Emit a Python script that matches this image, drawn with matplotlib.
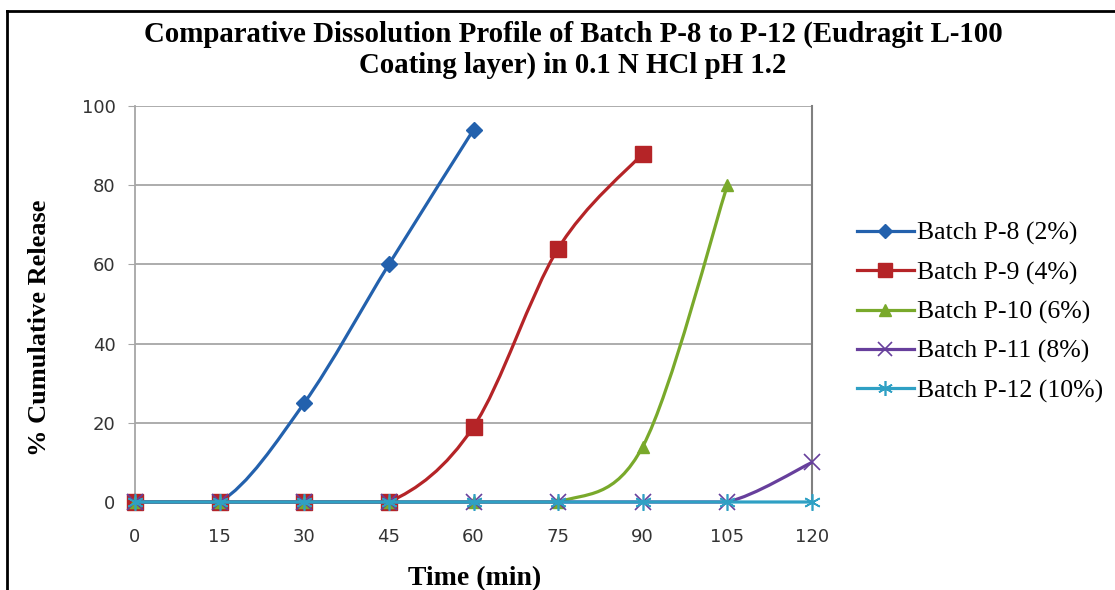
import numpy as np
import matplotlib
matplotlib.use("Agg")
import matplotlib.pyplot as plt
from matplotlib.path import Path
from matplotlib.patches import PathPatch
from matplotlib.lines import Line2D

# data
time_min = [0, 15, 30, 45, 60, 75, 90, 105, 120]
p8 = [0, 0, 25, 60, 94]
p9 = [0, 0, 0, 0, 19, 64, 88]
p10 = [0, 0, 0, 0, 0, 0, 14, 80]
p11 = [0, 0, 0, 0, 0, 0, 0, 0, 10]
p12 = [0, 0, 0, 0, 0, 0, 0, 0, 0]
labels = ["Batch P-8 (2%)", "Batch P-9 (4%)", "Batch P-10 (6%)",
          "Batch P-11 (8%)", "Batch P-12 (10%)"]

colors = ["#2361ad", "#b52427", "#79a92b", "#673f9c", "#2fa0c4"]
markers = ["D", "s", "^", "x", (6, 2, 0)]
msizes = [8, 11, 9, 11, 12]


# excel-like smoothed line (catmull-rom as cubic bezier), no dip below zero
def smooth_path(x, y):
    pts = np.column_stack([x, y]).astype(float)
    n = len(pts)
    verts = [pts[0]]
    codes = [Path.MOVETO]
    for i in range(n - 1):
        p0 = pts[max(i - 1, 0)]
        p1 = pts[i]
        p2 = pts[i + 1]
        p3 = pts[min(i + 2, n - 1)]
        c1 = p1 + (p2 - p0) / 6
        c2 = p2 - (p3 - p1) / 6
        c1[1] = max(c1[1], 0)
        c2[1] = max(c2[1], 0)
        verts += [c1, c2, p2]
        codes += [Path.CURVE4] * 3
    return Path(verts, codes)


fig = plt.figure(figsize=(11.15, 5.9), dpi=100)
ax = fig.add_axes([135 / 1115, 1 - 502 / 590, (812 - 135) / 1115, (502 - 106) / 590])

series = [p8, p9, p10, p11, p12]
handles = []
for i, ys in enumerate(series):
    xs = time_min[:len(ys)]
    z = 3 + i
    ax.add_patch(PathPatch(smooth_path(xs, ys), fill=False, edgecolor=colors[i],
                           lw=2.3, zorder=z, clip_on=False))
    mew = 1.2 if markers[i] in ("x",) or isinstance(markers[i], tuple) else 1
    ax.plot(xs, ys, ls="none", marker=markers[i], ms=msizes[i], color=colors[i],
            mec=colors[i], mew=mew, zorder=z, clip_on=False)
    handles.append(Line2D([], [], color=colors[i], lw=2.3, marker=markers[i],
                          ms=msizes[i] * 0.9, mec=colors[i], mew=mew))

ax.set_xlim(0, 120)
ax.set_ylim(0, 100)
ax.set_xticks(time_min)
ax.set_yticks(range(0, 101, 20))
ax.grid(axis="y", color="#a6a6a6", lw=1.3)
ax.set_axisbelow(True)
for s in ["top", "bottom"]:
    ax.spines[s].set_visible(False)
ax.spines["left"].set_color("#a6a6a6")
ax.spines["left"].set_linewidth(1.3)
ax.spines["right"].set_color("#808080")
ax.spines["right"].set_linewidth(1.5)
ax.tick_params(axis="y", length=5, color="#a6a6a6", pad=9, labelsize=13,
               labelcolor="#333333")
ax.tick_params(axis="x", length=0, pad=19, labelsize=13, labelcolor="#333333")

serif = "Liberation Serif"
fig.text(475 / 1115, 1 - 579 / 590, "Time (min)", ha="center", va="center",
         family=serif, weight="bold", fontsize=20)
fig.text(40 / 1115, 1 - 328 / 590, "% Cumulative Release", ha="center", va="center",
         rotation=90, family=serif, weight="bold", fontsize=19)

fig.text(0.514, 1 - 34 / 590, "Comparative Dissolution Profile of Batch P-8 to P-12 (Eudragit L-100",
         ha="center", va="center", family=serif, weight="bold", fontsize=20.8)
fig.text(0.514, 1 - 65 / 590, "Coating layer) in 0.1 N HCl pH 1.2",
         ha="center", va="center", family=serif, weight="bold", fontsize=20.8)

fig.legend(handles, labels, loc="upper left", bbox_to_anchor=(857 / 1115, 1 - 222 / 590),
           frameon=False, prop={"family": serif, "size": 18.5}, handlelength=2.2,
           handletextpad=0.15, labelspacing=0.62, borderaxespad=0, borderpad=0)

# outer frame (top and left edges only visible)
fig.add_artist(Line2D([7 / 1115, 7 / 1115], [0, 1 - 11 / 590], color="black", lw=2,
                      transform=fig.transFigure))
fig.add_artist(Line2D([7 / 1115, 1], [1 - 11 / 590, 1 - 11 / 590], color="black", lw=2,
                      transform=fig.transFigure))

fig.savefig("out.png", dpi=100)
